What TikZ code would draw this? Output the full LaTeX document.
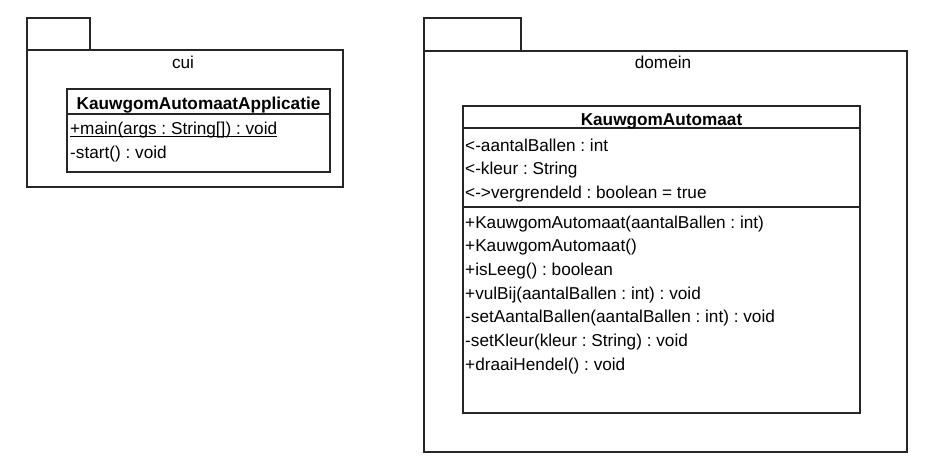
\documentclass[tikz,border=0pt]{standalone}
\usepackage{fontspec}
\setmainfont{Liberation Sans}
\frenchspacing
\begin{document}
\begin{tikzpicture}[x=1pt,y=-1pt,
  box/.style={draw=black!85,line width=1.3pt},
  txt/.style={anchor=base west,inner sep=0pt,font=\fontsize{17.2}{20}\selectfont},
  ttl/.style={anchor=base,inner sep=0pt,font=\fontsize{17.2}{20}\selectfont},
  btl/.style={anchor=base,inner sep=0pt,font=\fontsize{17.2}{20}\selectfont\bfseries}]
\useasboundingbox[fill=white] (0,0) rectangle (928,474);
% package cui
\draw[box] (27,50) rectangle (90,18);
\draw[box] (27,50) rectangle (343,187);
\node[ttl] (cuilbl) at (183,68) {cui};
% class KauwgomAutomaatApplicatie
\draw[box] (67,89) rectangle (330,172);
\draw[box] (67,114) -- (330,114);
\node[btl] (appttl) at (198.5,109) {KauwgomAutomaatApplicatie};
\node[txt] (appm1) at (70,134) {+main(args : String[]) : void};
\draw[line width=0.9pt] ([yshift=-2.2pt]appm1.base west) -- ([yshift=-2.2pt]appm1.base east);
\node[txt] (appm2) at (70,158) {-start() : void};
% package domein
\draw[box] (424,51) rectangle (521,18);
\draw[box] (424,51) rectangle (907,452);
\node[ttl] (domlbl) at (663,68) {domein};
% class KauwgomAutomaat
\draw[box] (463,106) rectangle (860,413);
\draw[box] (463,128) -- (860,128);
\draw[box] (463,207) -- (860,207);
\node[btl] (kattl) at (661.5,125) {KauwgomAutomaat};
\node[txt] (a1) at (465,151) {<-aantalBallen : int};
\node[txt] (a2) at (465,174.5) {<-kleur : String};
\node[txt] (a3) at (465,198) {<->vergrendeld : boolean = true};
\node[txt] (m1) at (465,228) {+KauwgomAutomaat(aantalBallen : int)};
\node[txt] (m2) at (465,251.7) {+KauwgomAutomaat()};
\node[txt] (m3) at (465,275.4) {+isLeeg() : boolean};
\node[txt] (m4) at (465,299) {+vulBij(aantalBallen : int) : void};
\node[txt] (m5) at (465,322.8) {-setAantalBallen(aantalBallen : int) : void};
\node[txt] (m6) at (465,346.5) {-setKleur(kleur : String) : void};
\node[txt] (m7) at (465,370) {+draaiHendel() : void};
\end{tikzpicture}
\end{document}
